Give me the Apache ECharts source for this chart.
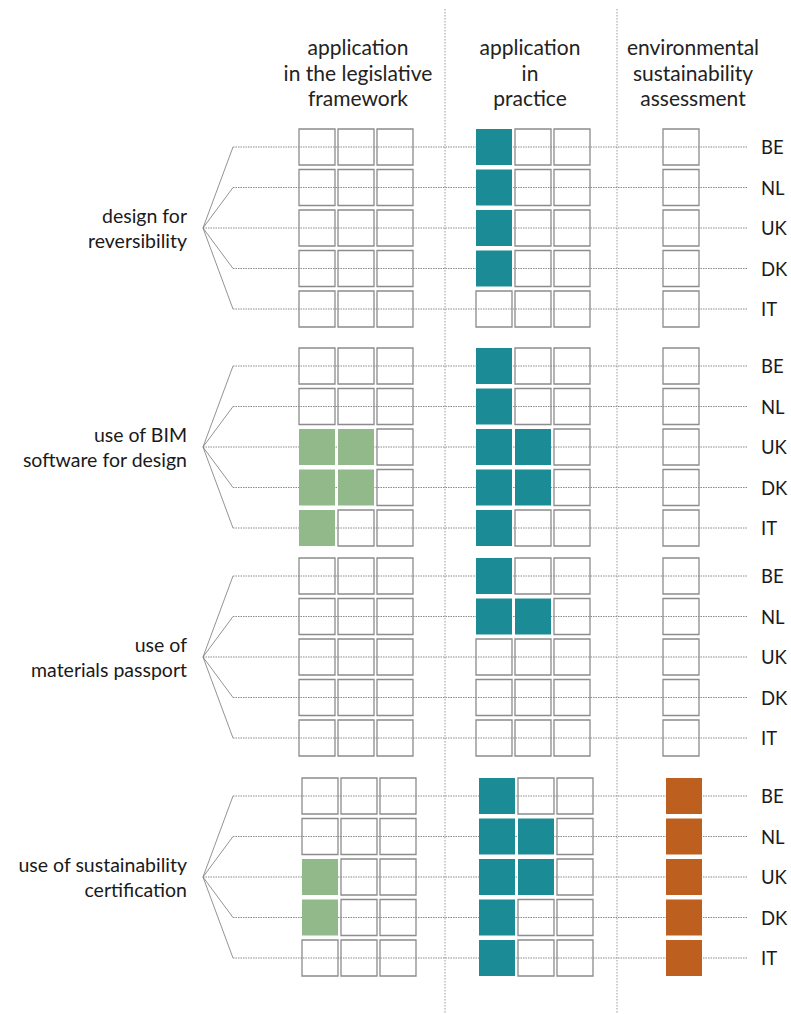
<!DOCTYPE html>
<html>
<head>
<meta charset="utf-8">
<script src="https://cdn.jsdelivr.net/npm/echarts@6/dist/echarts.min.js"></script>
<style>
  html, body { margin: 0; padding: 0; background: #fff; }
  #chart { width: 791px; height: 1014px; }
</style>
</head>
<body>
<div id="chart"></div>
<script>
// data
const countries = ['BE', 'NL', 'UK', 'DK', 'IT']
const groups = ['design for\nreversibility', 'use of BIM\nsoftware for design', 'use of\nmaterials passport', 'use of sustainability\ncertification']
const columnTitles = ['application\nin the legislative\nframework', 'application\nin\npractice', 'environmental\nsustainability\nassessment']
// number of filled cells per country (BE, NL, UK, DK, IT), one row per group
const legislative = [[0, 0, 0, 0, 0], [0, 0, 2, 2, 1], [0, 0, 0, 0, 0], [0, 0, 1, 1, 0]]
const practice = [[1, 1, 1, 1, 0], [1, 1, 2, 2, 1], [1, 2, 0, 0, 0], [1, 2, 2, 1, 1]]
const assessment = [[0, 0, 0, 0, 0], [0, 0, 0, 0, 0], [0, 0, 0, 0, 0], [1, 1, 1, 1, 1]]

// layout (pixel-like units of the axes)
const groupTop = [147, 366, 576, 796]
const groupShift = [0, 0, 0, 3]
const rowStep = 40.5
const blocks = [
    { cols: [317, 356, 395], counts: legislative, color: '#92b98a' },
    { cols: [494, 533, 572], counts: practice, color: '#1b8b96' },
    { cols: [681], counts: assessment, color: '#bd5f1f' }
]
const cellSize = 36
const fanX = 203, lineStartX = 233, lineEndX = 748
const dividers = [445, 617]
const titleX = [358, 530, 693]

function rowY (g, c) {
    return groupTop[g] + c * rowStep
}

// cells
let cellData = []
blocks.forEach(function (b, bi) {
    groups.forEach(function (gName, g) {
        countries.forEach(function (cName, c) {
            b.cols.forEach(function (x, k) {
                let filled = k < b.counts[g][c] ? 1 : 0
                cellData.push([x + groupShift[g], rowY(g, c), filled, bi])
            })
        })
    })
})

// guide lines
let rowData = []
groups.forEach(function (gName, g) {
    countries.forEach(function (cName, c) {
        rowData.push([g, c])
    })
})

let myChart = echarts.init(document.getElementById('chart'), null, { renderer: 'svg' })
const font = 'Lato, "Open Sans", sans-serif'

myChart.setOption({
    animation: false,
    grid: { left: 0, right: 0, top: 0, bottom: 0 },
    xAxis: { type: 'value', min: 0, max: 791, show: false },
    yAxis: { type: 'value', min: 0, max: 1014, inverse: true, show: false },
    series: [
        {
            // vertical dotted dividers
            type: 'custom',
            data: dividers.map(function (x) { return [x] }),
            renderItem: function (params, api) {
                let a = api.coord([api.value(0), 9])
                let b = api.coord([api.value(0), 1014])
                return {
                    type: 'line',
                    shape: { x1: a[0], y1: a[1], x2: b[0], y2: b[1] },
                    style: { stroke: '#9a9a9a', lineWidth: 1, lineDash: [1.5, 1.5] }
                }
            }
        },
        {
            // fan lines and dotted row lines
            type: 'custom',
            data: rowData,
            renderItem: function (params, api) {
                let g = api.value(0), c = api.value(1)
                let y = rowY(g, c)
                let hub = api.coord([fanX, rowY(g, 2)])
                let start = api.coord([c === 2 ? fanX : lineStartX, y])
                let end = api.coord([lineEndX, y])
                return {
                    type: 'group',
                    children: [
                        {
                            type: 'line',
                            shape: { x1: hub[0], y1: hub[1], x2: start[0], y2: start[1] },
                            style: { stroke: '#777', lineWidth: 0.8 }
                        },
                        {
                            type: 'line',
                            shape: { x1: start[0], y1: start[1], x2: end[0], y2: end[1] },
                            style: { stroke: '#8a8a8a', lineWidth: 1, lineDash: [1.5, 1] }
                        }
                    ]
                }
            }
        },
        {
            // square cells
            type: 'custom',
            data: cellData,
            renderItem: function (params, api) {
                let p = api.coord([api.value(0), api.value(1)])
                let s = api.size([cellSize, cellSize])
                let filled = api.value(2) === 1
                let color = blocks[api.value(3)].color
                return {
                    type: 'rect',
                    shape: { x: p[0] - s[0] / 2, y: p[1] - s[1] / 2, width: s[0], height: s[1] },
                    style: filled
                        ? { fill: color, stroke: null }
                        : { fill: 'none', stroke: '#8c8c8c', lineWidth: 1.3 }
                }
            }
        },
        {
            // country labels
            type: 'custom',
            data: rowData,
            renderItem: function (params, api) {
                let g = api.value(0), c = api.value(1)
                let p = api.coord([761, rowY(g, c)])
                return {
                    type: 'text',
                    style: {
                        text: countries[c], x: p[0], y: p[1], fill: '#1a1a1a',
                        fontSize: 18.5, fontFamily: font, align: 'left', verticalAlign: 'middle'
                    }
                }
            }
        },
        {
            // group labels
            type: 'custom',
            data: groups.map(function (n, g) { return [g] }),
            renderItem: function (params, api) {
                let g = api.value(0)
                let p = api.coord([187, rowY(g, 2)])
                return {
                    type: 'text',
                    style: {
                        text: groups[g], x: p[0], y: p[1], fill: '#1a1a1a',
                        fontSize: 19.5, lineHeight: 25, fontFamily: font, align: 'right', verticalAlign: 'middle'
                    }
                }
            }
        },
        {
            // column titles
            type: 'custom',
            data: columnTitles.map(function (n, i) { return [i] }),
            renderItem: function (params, api) {
                let i = api.value(0)
                let p = api.coord([titleX[i], 72])
                return {
                    type: 'text',
                    style: {
                        text: columnTitles[i], x: p[0], y: p[1], fill: '#222',
                        fontSize: 21, lineHeight: 25.5, fontFamily: font, align: 'center', verticalAlign: 'middle'
                    }
                }
            }
        }
    ]
})

window.addEventListener('resize', function () {
    myChart.resize()
})
</script>
</body>
</html>
